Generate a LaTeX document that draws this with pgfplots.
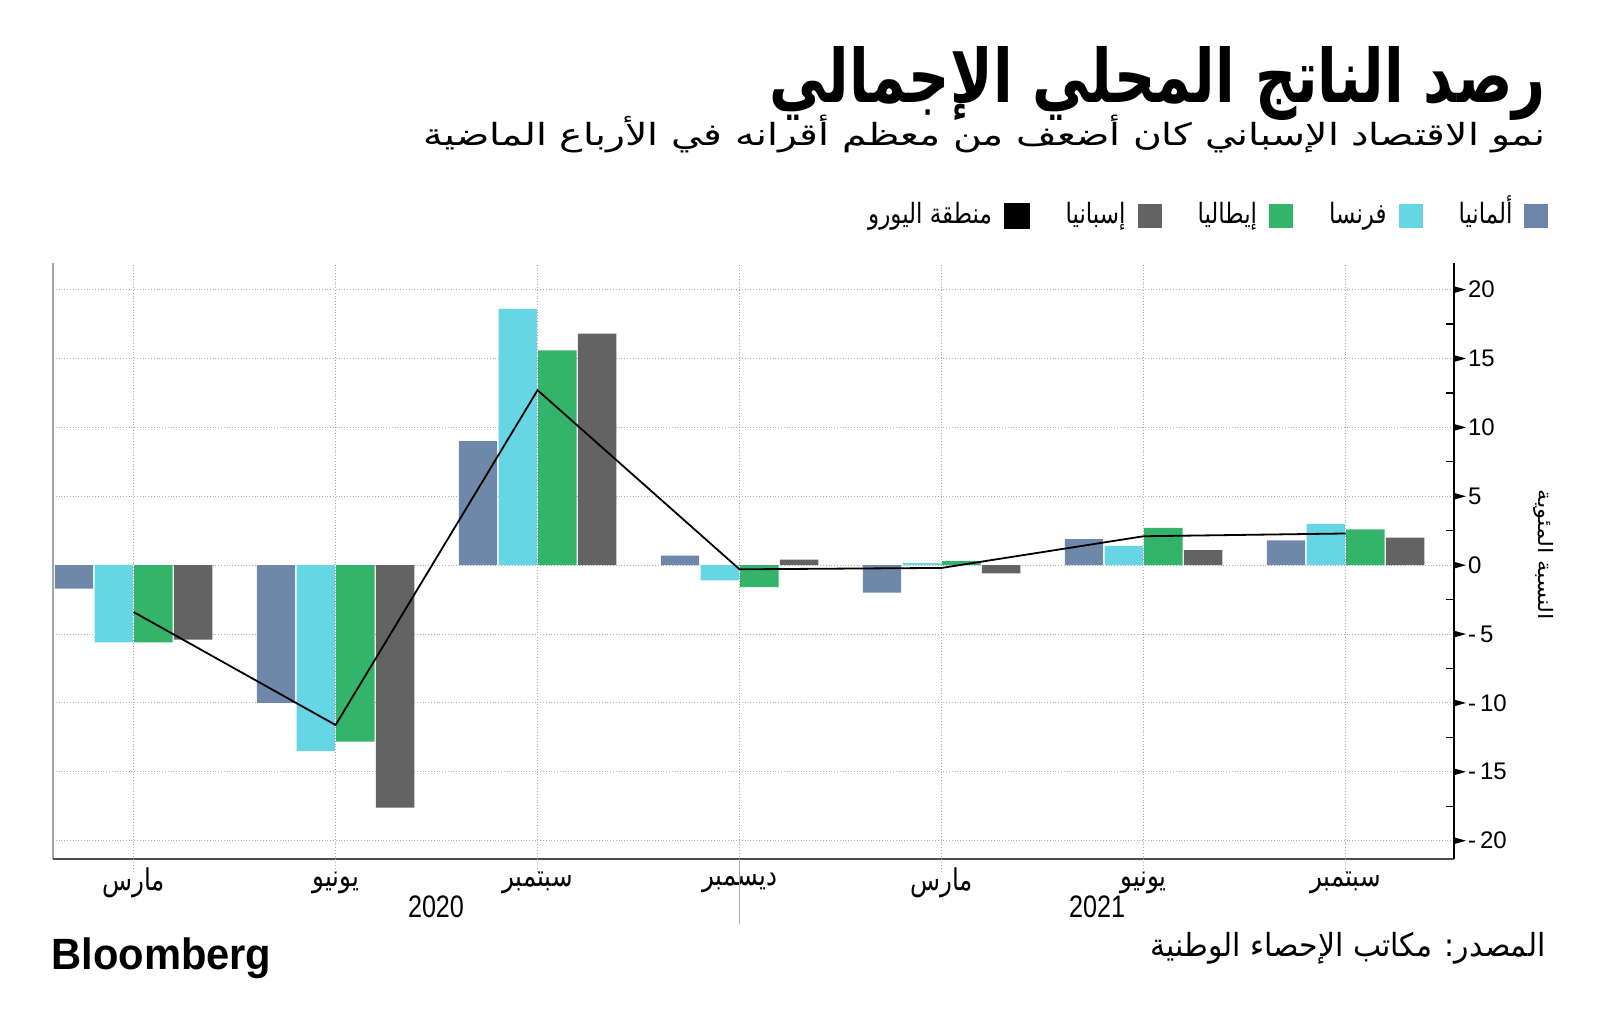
\documentclass[border=0pt]{standalone}
\usepackage{pgfplots}
\pgfplotsset{compat=1.18}
\usepackage{fontspec}
\setmainfont{Liberation Sans}
\newfontfamily\arabicfont[Script=Arabic]{DejaVu Sans}
\TeXXeTstate=1
\newcommand{\ar}[1]{{\arabicfont\beginR #1\endR}}
\newcommand{\arc}[1]{\scalebox{0.82}[1]{\ar{#1}}}

\definecolor{cDE}{HTML}{6F88AA}
\definecolor{cFR}{HTML}{66D6E4}
\definecolor{cIT}{HTML}{34B46A}
\definecolor{cES}{HTML}{636363}

\begin{document}
\begin{tikzpicture}
\path[use as bounding box] (0,0) rectangle (800pt,518pt);

\begin{axis}[
  scale only axis,
  width=700.5pt, height=298pt,
  at={(26.5pt,88.4pt)}, anchor=south west,
  xmin=-0.399, xmax=6.537,
  ymin=-21.34, ymax=21.92,
  clip=false,
  axis line style={draw=none},
  xtick={0,1,2,3,4,5,6},
  xticklabels={\arc{مارس},\arc{يونيو},\arc{سبتمبر},\arc{ديسمبر},\arc{مارس},\arc{يونيو},\arc{سبتمبر}},
  xtick style={draw=none},
  xticklabel style={font=\fontsize{15}{17}\selectfont, anchor=center, yshift=-8pt},
  ytick={-20,-15,-10,-5,0,5,10,15,20},
  yticklabels={-\,20,-\,15,-\,10,-\,5,0,5,10,15,20},
  ytick pos=right, yticklabel pos=right,
  tick align=outside,
  major tick length=4pt,
  ytick style={draw=none},
  yticklabel style={font=\fontsize{12}{14}\selectfont, anchor=west, xshift=-0.5pt},
  xmajorgrids, ymajorgrids,
  grid style={gray!65, densely dotted, line width=0.5pt},
  legend reversed,
  legend plot pos=right,
  legend columns=-1,
  legend style={at={(1.072,1.079)}, anchor=east, draw=none, fill=none,
    font=\fontsize{14}{16}\selectfont,
    nodes={text height=11pt, text depth=4pt},
    /tikz/every odd column/.append style={column sep=4pt},
    /tikz/every even column/.append style={column sep=16pt}},
]
% Germany
\addplot[ybar, bar width=0.19, bar shift=-0.295, fill=cDE, draw=none,
  legend image code/.code={\fill[cDE] (0pt,-6pt) rectangle (12pt,6pt);}]
  coordinates {(0,-1.7) (1,-10.0) (2,9.0) (3,0.7) (4,-2.0) (5,1.9) (6,1.8)};
\addlegendentry{\arc{ألمانيا}}
% France
\addplot[ybar, bar width=0.19, bar shift=-0.098, fill=cFR, draw=none,
  legend image code/.code={\fill[cFR] (0pt,-6pt) rectangle (12pt,6pt);}]
  coordinates {(0,-5.6) (1,-13.5) (2,18.6) (3,-1.1) (4,0.15) (5,1.4) (6,3.0)};
\addlegendentry{\arc{فرنسا}}
% Italy
\addplot[ybar, bar width=0.19, bar shift=0.098, fill=cIT, draw=none,
  legend image code/.code={\fill[cIT] (0pt,-6pt) rectangle (12pt,6pt);}]
  coordinates {(0,-5.6) (1,-12.8) (2,15.6) (3,-1.6) (4,0.3) (5,2.7) (6,2.6)};
\addlegendentry{\arc{إيطاليا}}
% Spain
\addplot[ybar, bar width=0.19, bar shift=0.295, fill=cES, draw=none,
  legend image code/.code={\fill[cES] (0pt,-6pt) rectangle (12pt,6pt);}]
  coordinates {(0,-5.4) (1,-17.6) (2,16.8) (3,0.4) (4,-0.6) (5,1.1) (6,2.0)};
\addlegendentry{\arc{إسبانيا}}
% Euro area
\addplot[black, line width=0.9pt, mark=none,
  legend image code/.code={\fill[black] (0pt,-6pt) rectangle (12pt,6pt);}]
  coordinates {(0,-3.4) (1,-11.6) (2,12.7) (3,-0.3) (4,-0.2) (5,2.1) (6,2.3)};
\addlegendentry{\arc{منطقة اليورو}}

% frame
\draw[gray!70, line width=0.7pt] (rel axis cs:0,0) -- (rel axis cs:0,1);
\draw[black!70, line width=1.3pt] (rel axis cs:0,0) -- (rel axis cs:1,0);
\draw[black, line width=1pt] (rel axis cs:1,0) -- (rel axis cs:1,1);
% grid extensions below the axis
\draw[gray!65, densely dotted, line width=0.5pt] (axis cs:0,-21.34) -- ([yshift=-7pt]axis cs:0,-21.34);
\draw[gray!65, densely dotted, line width=0.5pt] (axis cs:1,-21.34) -- ([yshift=-7pt]axis cs:1,-21.34);
\draw[gray!65, densely dotted, line width=0.5pt] (axis cs:2,-21.34) -- ([yshift=-7pt]axis cs:2,-21.34);
\draw[gray!65, densely dotted, line width=0.5pt] (axis cs:4,-21.34) -- ([yshift=-7pt]axis cs:4,-21.34);
\draw[gray!65, densely dotted, line width=0.5pt] (axis cs:5,-21.34) -- ([yshift=-7pt]axis cs:5,-21.34);
\draw[gray!65, densely dotted, line width=0.5pt] (axis cs:6,-21.34) -- ([yshift=-7pt]axis cs:6,-21.34);
\draw[gray!65, line width=0.5pt] (axis cs:3,-21.34) -- ([yshift=-32.5pt]axis cs:3,-21.34);
% major ticks (small triangles) on the right axis
\fill ([yshift=1.7pt]axis cs:6.537,-20) -- ([xshift=6pt]axis cs:6.537,-20) -- ([yshift=-1.7pt]axis cs:6.537,-20) -- cycle;
\fill ([yshift=1.7pt]axis cs:6.537,-15) -- ([xshift=6pt]axis cs:6.537,-15) -- ([yshift=-1.7pt]axis cs:6.537,-15) -- cycle;
\fill ([yshift=1.7pt]axis cs:6.537,-10) -- ([xshift=6pt]axis cs:6.537,-10) -- ([yshift=-1.7pt]axis cs:6.537,-10) -- cycle;
\fill ([yshift=1.7pt]axis cs:6.537,-5) -- ([xshift=6pt]axis cs:6.537,-5) -- ([yshift=-1.7pt]axis cs:6.537,-5) -- cycle;
\fill ([yshift=1.7pt]axis cs:6.537,0) -- ([xshift=6pt]axis cs:6.537,0) -- ([yshift=-1.7pt]axis cs:6.537,0) -- cycle;
\fill ([yshift=1.7pt]axis cs:6.537,5) -- ([xshift=6pt]axis cs:6.537,5) -- ([yshift=-1.7pt]axis cs:6.537,5) -- cycle;
\fill ([yshift=1.7pt]axis cs:6.537,10) -- ([xshift=6pt]axis cs:6.537,10) -- ([yshift=-1.7pt]axis cs:6.537,10) -- cycle;
\fill ([yshift=1.7pt]axis cs:6.537,15) -- ([xshift=6pt]axis cs:6.537,15) -- ([yshift=-1.7pt]axis cs:6.537,15) -- cycle;
\fill ([yshift=1.7pt]axis cs:6.537,20) -- ([xshift=6pt]axis cs:6.537,20) -- ([yshift=-1.7pt]axis cs:6.537,20) -- cycle;
% minor ticks, inside
\draw[black, line width=0.6pt] ([xshift=-4pt]axis cs:6.537,-17.5) -- (axis cs:6.537,-17.5);
\draw[black, line width=0.6pt] ([xshift=-4pt]axis cs:6.537,-12.5) -- (axis cs:6.537,-12.5);
\draw[black, line width=0.6pt] ([xshift=-4pt]axis cs:6.537,-7.5) -- (axis cs:6.537,-7.5);
\draw[black, line width=0.6pt] ([xshift=-4pt]axis cs:6.537,-2.5) -- (axis cs:6.537,-2.5);
\draw[black, line width=0.6pt] ([xshift=-4pt]axis cs:6.537,2.5) -- (axis cs:6.537,2.5);
\draw[black, line width=0.6pt] ([xshift=-4pt]axis cs:6.537,7.5) -- (axis cs:6.537,7.5);
\draw[black, line width=0.6pt] ([xshift=-4pt]axis cs:6.537,12.5) -- (axis cs:6.537,12.5);
\draw[black, line width=0.6pt] ([xshift=-4pt]axis cs:6.537,17.5) -- (axis cs:6.537,17.5);
\end{axis}

% years
\node[inner sep=0] at (218pt,64.5pt) {\resizebox*{28pt}{11pt}{2020}};
\node[inner sep=0] at (548.5pt,64.5pt) {\resizebox*{28pt}{11pt}{2021}};

% titles
\node[anchor=north east, inner sep=0] at (773pt,495pt)
  {\resizebox*{388pt}{37pt}{\bfseries\ar{رصد الناتج المحلي الإجمالي}}};
\node[anchor=north east, inner sep=0] at (773pt,460.5pt)
  {\resizebox*{561pt}{19pt}{\ar{نمو الاقتصاد الإسباني كان أضعف من معظم أقرانه في الأرباع الماضية}}};

% y label
\node[rotate=-90, inner sep=0] at (771.75pt,240.5pt)
  {\resizebox*{65pt}{10pt}{\ar{النسبة المئوية}}};

% footer
\node[anchor=north east, inner sep=0] at (773pt,52pt)
  {\resizebox*{197.5pt}{16pt}{\ar{المصدر: مكاتب الإحصاء الوطنية}}};
\node[anchor=north west, inner sep=0] at (25.5pt,49.5pt)
  {\resizebox*{110pt}{20.5pt}{\bfseries Bloomberg}};
\end{tikzpicture}
\end{document}
